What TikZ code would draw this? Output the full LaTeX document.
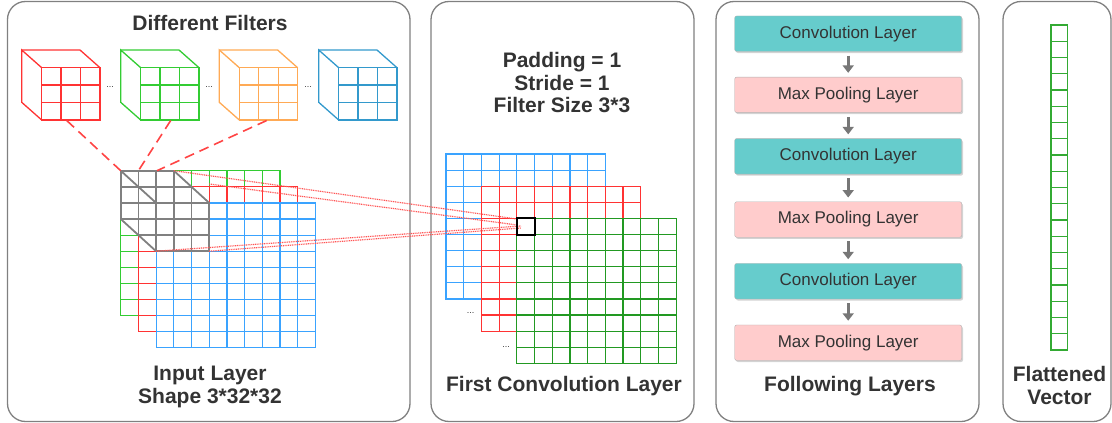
\documentclass[tikz,border=0pt]{standalone}
\usepackage{fontspec}
\setmainfont{Liberation Sans}
\usetikzlibrary{arrows.meta,shadows}
\definecolor{txt}{HTML}{333333}
\definecolor{panel}{HTML}{808080}
\definecolor{gG}{HTML}{33CC33}
\definecolor{gR}{HTML}{FF3333}
\definecolor{gB}{HTML}{3AA3FF}
\definecolor{gO}{HTML}{FFAA55}
\definecolor{fB}{HTML}{3399CC}
\definecolor{cG}{HTML}{229922}
\definecolor{tealbox}{HTML}{66CCCC}
\definecolor{pinkbox}{HTML}{FFCCCC}
\definecolor{arr}{HTML}{777777}
\definecolor{vG}{HTML}{33AA33}
\definecolor{dashred}{HTML}{FF4444}
\definecolor{dotred}{HTML}{FF5555}
\tikzset{
  gridline/.style={line width=1.2pt},
  grayf/.style={draw=gray, line width=1.8pt},
  filt/.style={line width=1.3pt},
  panelbox/.style={draw=panel, line width=1.3pt, rounded corners=18pt},
  head/.style={font=\fontsize{21}{24}\selectfont\bfseries, text=txt, anchor=base, inner sep=0pt},
  dotsn/.style={font=\fontsize{9}{9}\selectfont, text=txt, anchor=base, inner sep=0pt},
  layerbox/.style={draw=gray!60, rounded corners=2pt, minimum width=227pt, minimum height=35.5pt, inner sep=0pt,
     font=\fontsize{17}{20}\selectfont, text=txt,
     drop shadow={shadow xshift=1.3pt, shadow yshift=-1.6pt, opacity=0.35, fill=gray}},
  convbox/.style={layerbox, fill=tealbox},
  poolbox/.style={layerbox, fill=pinkbox},
  flowarrow/.style={draw=arr, line width=3pt, -{Triangle[width=11pt,length=7.5pt]}},
  reddash/.style={draw=dashred, line width=1.6pt, dash pattern=on 10pt off 6pt},
  reddot/.style={draw=dotred, line width=1.2pt, dash pattern=on 1pt off 0.8pt},
  vecline/.style={draw=vG, line width=1.1pt}
}
\newcommand\mygrid[5]{%
  \pgfmathsetmacro\mgW{#3*17.7}\pgfmathsetmacro\mgH{#4*16.1}%
  \draw[gridline,draw=#5,fill=white] (#1,#2) rectangle ++(\mgW,\mgH);
  \foreach \i in {1,...,#3}{\draw[gridline,draw=#5] ({#1+\i*17.7},#2) -- ++(0,\mgH);}
  \foreach \j in {1,...,#4}{\draw[gridline,draw=#5] (#1,{#2+\j*16.1}) -- ++(\mgW,0);}
}
\newcommand\mygraygrid[2]{%
  \draw[grayf] (#1,#2) rectangle ++(53.1,48.3);
  \foreach \i in {1,2}{\draw[grayf] ({#1+\i*17.7},#2) -- ++(0,48.3);
    \draw[grayf] (#1,{#2+\i*16.1}) -- ++(53.1,0);}
}
\newcommand\myfilter[2]{%
  \draw[filt,draw=#2] ({#1-20},50) -- ({#1+38.3},50) -- ({#1+58.3},67.7);
  \draw[filt,draw=#2] (#1,67.7) -- ({#1-20},50) -- ({#1-20},102.3) -- (#1,120);
  \draw[filt,draw=#2,fill=white] (#1,67.7) rectangle ({#1+58.3},120);
  \foreach \i in {1,2}{\draw[filt,draw=#2] ({#1+\i*19.43},67.7) -- ++(0,52.3);
    \draw[filt,draw=#2] (#1,{67.7+\i*17.43}) -- ++(58.3,0);}
}
\begin{document}
\begin{tikzpicture}[x=1pt,y=-1pt]
\useasboundingbox (0,0) rectangle (1112,423);
% panels
\draw[panelbox] (7.5,1.5) rectangle (410,421.5);
\draw[panelbox] (431,1.5) rectangle (694,421.5);
\draw[panelbox] (716,1.5) rectangle (979,421.5);
\draw[panelbox] (1003,1.5) rectangle (1111,421.5);

% titles
\node[head] (tfilters) at (210,30.7) {Different Filters};
\node[head] (tpad) at (562,67) {Padding = 1};
\node[head] (tstride) at (562,90) {Stride = 1};
\node[head] (tfsize) at (562,112.7) {Filter Size 3*3};
\node[head] (tinput) at (210,380) {Input Layer};
\node[head] (tshape) at (210,403) {Shape 3*32*32};
\node[head] (tconv) at (564,391.7) {First Convolution Layer};
\node[head] (tfollow) at (850,391.7) {Following Layers};
\node[head] (tflat) at (1059.5,381.7) {Flattened};
\node[head] (tvec) at (1059.5,404) {Vector};

% filters
\myfilter{41.7}{gR}
\myfilter{140.7}{gG}
\myfilter{239.3}{gO}
\myfilter{338.7}{fB}
\node[dotsn] (e1) at (110,87) {...};
\node[dotsn] (e2) at (209,87) {...};
\node[dotsn] (e3) at (308,87) {...};

% input layer
\mygrid{120.7}{170.7}{9}{9}{gG}
\mygrid{138.4}{186.8}{9}{9}{gR}
\mygrid{156.1}{202.9}{9}{9}{gB}
\mygraygrid{120.7}{170.7}
\mygraygrid{138.4}{186.8}
\mygraygrid{156.1}{202.9}
\draw[grayf] (120.7,170.7) -- (156.1,202.9);
\draw[grayf] (173.8,170.7) -- (209.2,202.9);
\draw[grayf] (120.7,219) -- (156.1,251.2);

% connector coordinates
\coordinate (fr) at (66.7,120.5);
\coordinate (fg) at (170.7,120.5);
\coordinate (fo) at (266.7,120.5);
\coordinate (ga) at (120.7,170.7);
\coordinate (gb) at (138.4,170.7);
\coordinate (gc) at (157,170.7);
\draw[reddash] (fr) -- (ga);
\draw[reddash] (fg) -- (gb);
\draw[reddash] (fo) -- (gc);

% first convolution layer
\mygrid{446}{154}{9}{9}{gB}
\mygrid{481.4}{186.2}{9}{9}{gR}
\mygrid{516.8}{218.4}{9}{9}{cG}
\node[dotsn] (e4) at (470.7,313) {...};
\node[dotsn] (e5) at (506,347.5) {...};

% receptive field lines
\coordinate (s1) at (173.8,170.7);
\coordinate (s2) at (209.2,184);
\coordinate (s3) at (156.1,251.2);
\coordinate (s4) at (209.2,251.2);
\coordinate (t1) at (517,219);
\coordinate (t2) at (517,225);
\coordinate (t3) at (521,226);
\coordinate (t4) at (521,228);
\draw[reddot] (s1) -- (t1);
\draw[reddot] (s2) -- (t2);
\draw[reddot] (s3) -- (t3);
\draw[reddot] (s4) -- (t4);
\draw[black, line width=2pt] (516.8,218.4) rectangle ++(17.7,16.1);

% following layers
\node[convbox] (b1) at (848.2,33.7) {Convolution Layer};
\node[poolbox] (b2) at (848.2,94.8) {Max Pooling Layer};
\node[convbox] (b3) at (848.2,156.3) {Convolution Layer};
\node[poolbox] (b4) at (848.2,219.5) {Max Pooling Layer};
\node[convbox] (b5) at (848.2,281.2) {Convolution Layer};
\node[poolbox] (b6) at (848.2,342.7) {Max Pooling Layer};
\foreach \a/\b in {b1/b2,b2/b3,b3/b4,b4/b5,b5/b6}{
  \draw[flowarrow] ([yshift=-4pt]\a.south) -- ([yshift=4pt]\b.north);
}

% flattened vector
\foreach \k in {0,...,19}{
  \draw[vecline] (1051,{25+\k*16.25}) rectangle ++(16.7,16.25);
}
\end{tikzpicture}
\end{document}
